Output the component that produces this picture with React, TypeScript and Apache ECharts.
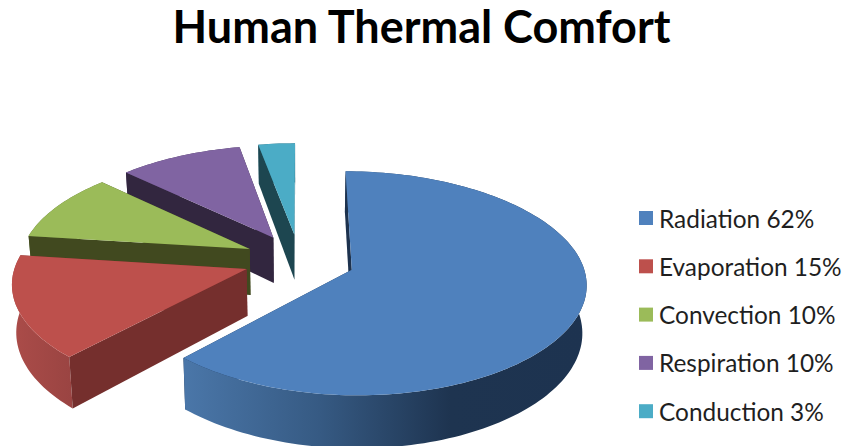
import React, { useEffect, useRef } from "react";
import * as echarts from "echarts";

// Chart content
const chartTitle = "Human Thermal Comfort";
const categories = ["Radiation", "Evaporation", "Convection", "Respiration", "Conduction"];
const shares = [62, 15, 10, 10, 3];

// Slice colours: top face, cut wall, and outer-wall gradient stops [x, colour]
const topColors = ["#4f81bd", "#bd504c", "#9bbb59", "#8064a2", "#4bacc6"];
const cutColors = ["#1d324e", "#752f2d", "#41491f", "#32263f", "#1d4650"];
const rimStops: [number, string][][] = [
  [[186, "#4a76a8"], [320, "#365a83"], [450, "#1e3450"], [587, "#1d3350"]],
  [[12, "#ab4c49"], [72, "#9a4442"]],
  [[0, "#5c7035"], [100, "#5c7035"]],
  [[0, "#4c3c61"], [100, "#4c3c61"]],
  [[0, "#2d6676"], [100, "#2d6676"]],
];

// Projection of the tilted pie plane onto the page
const CENTER_X = 299.5;
const CENTER_Y = 260;
const RADIUS_X = 230;
const RADIUS_Y = 108;
const PERSPECTIVE = 0.12;
const EXPLODE = 0.242;
const DEPTH_BASE = 46.5;
const DEPTH_SLOPE = 6;
const BOTTOM_SHRINK = 0.985;

type Pt = [number, number];

function project(px: number, py: number, lowered: boolean): Pt {
  let sx = CENTER_X + RADIUS_X * px * (1 + PERSPECTIVE * py);
  let sy = CENTER_Y + (RADIUS_Y * py) / (1 - PERSPECTIVE * py);
  if (lowered) {
    sy += DEPTH_BASE + DEPTH_SLOPE * py;
    sx = CENTER_X + (sx - CENTER_X) * BOTTOM_SHRINK;
  }
  return [sx, sy];
}

// Angles run clockwise from twelve o'clock, in radians
function sliceAngles(index: number): [number, number] {
  const total = shares.reduce((a, b) => a + b, 0);
  const before = shares.slice(0, index).reduce((a, b) => a + b, 0);
  return [(before / total) * Math.PI * 2, ((before + shares[index]) / total) * Math.PI * 2];
}

function renderSlice(index: number) {
  const [start, end] = sliceAngles(index);
  const mid = (start + end) / 2;
  const ox = EXPLODE * Math.sin(mid);
  const oy = -EXPLODE * Math.cos(mid);

  const rimPoint = (t: number): Pt => [ox + Math.sin(t), oy - Math.cos(t)];
  const steps = Math.max(6, Math.round(((end - start) / (Math.PI * 2)) * 240));
  const rim: Pt[] = [];
  for (let i = 0; i <= steps; i++) rim.push(rimPoint(start + ((end - start) * i) / steps));

  const at = (p: Pt, lowered: boolean) => project(p[0], p[1], lowered);
  const apex: Pt = [ox, oy];
  const cutWall = (edge: Pt) => ({
    type: "polygon",
    shape: { points: [at(apex, false), at(edge, false), at(edge, true), at(apex, true)] },
    style: { fill: cutColors[index] },
    silent: true,
  });

  const stops = rimStops[index];
  const x0 = stops[0][0];
  const x1 = stops[stops.length - 1][0];
  const rimFill = new echarts.graphic.LinearGradient(
    x0, 0, x1, 0,
    stops.map(([x, color]) => ({ offset: (x - x0) / (x1 - x0), color })),
    true,
  );

  // Far cut wall, outer wall, near cut wall, then the top face over them all
  return {
    type: "group",
    children: [
      cutWall(rim[rim.length - 1]),
      {
        type: "polygon",
        shape: {
          points: [...rim.map((p) => at(p, false)), ...rim.slice().reverse().map((p) => at(p, true))],
        },
        style: { fill: rimFill },
        silent: true,
      },
      cutWall(rim[0]),
      {
        type: "polygon",
        shape: { points: [at(apex, false), ...rim.map((p) => at(p, false))] },
        style: { fill: topColors[index] },
        silent: true,
      },
    ],
  };
}

const legendLabels = categories.map((name, i) => `${name} ${shares[i]}%`);
// Painted from the back of the pie to the front
const paintOrder = [4, 3, 2, 1, 0];

export default function App() {
  const ref = useRef<HTMLDivElement>(null);

  useEffect(() => {
    document.body.style.margin = "0";
    const chart = echarts.init(ref.current!, undefined, { renderer: "svg" });
    chart.setOption({
      animation: false,
      backgroundColor: "#ffffff",
      title: {
        text: chartTitle,
        left: 416.5,
        top: -2,
        textAlign: "center",
        textStyle: { fontFamily: "Lato", fontWeight: "bold", fontSize: 45, color: "#000000" },
      },
      legend: {
        data: legendLabels,
        orient: "vertical",
        left: 639,
        top: 206,
        padding: 0,
        icon: "rect",
        itemWidth: 14,
        itemHeight: 14,
        itemGap: 24.3,
        selectedMode: false,
        textStyle: { fontFamily: "Lato", fontSize: 24.4, color: "#1f1f1f", padding: [0, 0, 0, 1] },
      },
      series: paintOrder.map((i) => ({
        type: "custom",
        name: legendLabels[i],
        coordinateSystem: "none",
        silent: true,
        itemStyle: { color: topColors[i] },
        data: [shares[i]],
        renderItem: () => renderSlice(i),
      })),
    });
    return () => chart.dispose();
  }, []);

  return <div ref={ref} style={{ width: 843, height: 446 }} />;
}
